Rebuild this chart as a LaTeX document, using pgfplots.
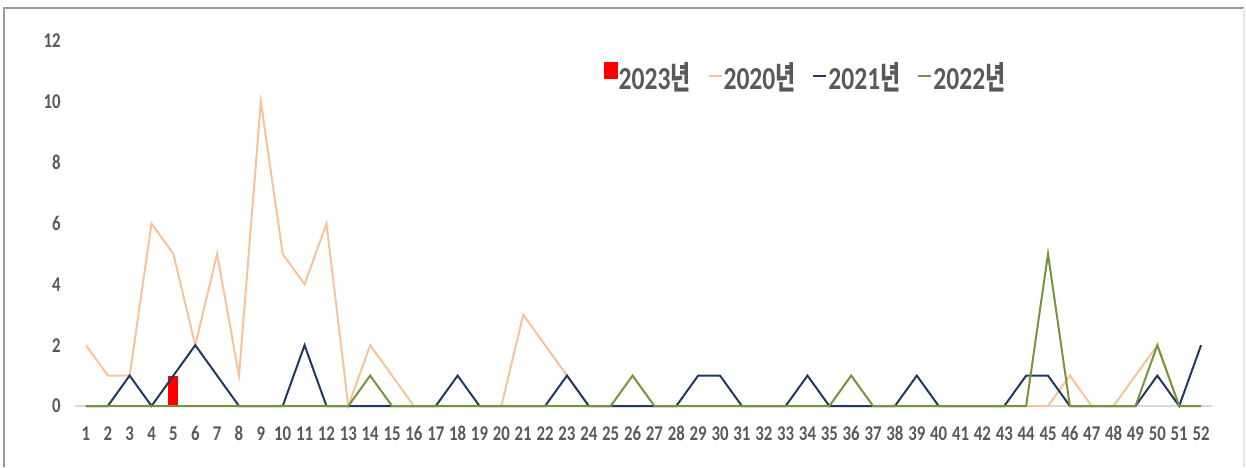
\documentclass[border=0pt]{standalone}
\usepackage{pgfplots}
\pgfplotsset{compat=1.18}
\usepackage{fontspec}
\setmainfont{Carlito}[FakeStretch=0.8]
\newfontfamily\kr{Noto Sans CJK KR}[FakeStretch=0.68]
\definecolor{c20}{HTML}{F8C39A}
\definecolor{c21}{HTML}{1F3864}
\definecolor{c22}{HTML}{77933C}
\definecolor{txt}{HTML}{595959}

\begin{document}
\begin{tikzpicture}
\begin{axis}[
    scale only axis,
    width=568.5pt, height=182.5pt,
    xmin=0.5, xmax=52.5,
    ymin=0, ymax=12,
    xtick={1,...,52},
    ytick={0,2,...,12},
    axis line style={draw=none},
    tick style={draw=none},
    clip=false,
    /pgf/number format/assume math mode=true,
    ticklabel style={font=\fontsize{10.5}{11}\selectfont\bfseries, text=txt},
    xticklabel style={anchor=north, inner sep=0pt, yshift=-10pt},
    yticklabel style={anchor=east, inner sep=0pt, xshift=-7pt},
    legend columns=4,
    legend style={draw=none, fill=none, at={(0.642,0.9)}, anchor=center,
        font=\fontsize{16}{17}\selectfont\bfseries, text=txt,
        nodes={inner sep=0.5pt},
        /tikz/every even column/.append style={column sep=8pt}},
]
\draw[black!15, line width=1pt] (axis cs:0.5,0) -- (axis cs:52.5,0);

% 2023
\addplot[ybar, bar width=5pt, fill=red, draw=none,
    legend image code/.code={\fill[red] (0pt,-0.5pt) rectangle (7pt,8pt);}]
    coordinates {(5,1)};
\addlegendentry{2023{\kr 년}}

% 2020
\addplot[c20, line width=1pt, mark=none,
    legend image code/.code={\draw[c20, line width=1pt] (0pt,1pt) -- (6.5pt,1pt);}]
    coordinates {
    (1,2) (2,1) (3,1) (4,6) (5,5) (6,2) (7,5) (8,1) (9,10) (10,5)
    (11,4) (12,6) (13,0) (14,2) (15,1) (16,0) (17,0) (18,0) (19,0) (20,0)
    (21,3) (22,2) (23,1) (24,0) (25,0) (26,0) (27,0) (28,0) (29,0) (30,0)
    (31,0) (32,0) (33,0) (34,0) (35,0) (36,0) (37,0) (38,0) (39,0) (40,0)
    (41,0) (42,0) (43,0) (44,0) (45,0) (46,1) (47,0) (48,0) (49,1) (50,2)
    (51,0) (52,0)};
\addlegendentry{2020{\kr 년}}

% 2021
\addplot[c21, line width=1pt, mark=none,
    legend image code/.code={\draw[c21, line width=1pt] (0pt,1pt) -- (6.5pt,1pt);}]
    coordinates {
    (1,0) (2,0) (3,1) (4,0) (5,1) (6,2) (7,1) (8,0) (9,0) (10,0)
    (11,2) (12,0) (13,0) (14,0) (15,0) (16,0) (17,0) (18,1) (19,0) (20,0)
    (21,0) (22,0) (23,1) (24,0) (25,0) (26,0) (27,0) (28,0) (29,1) (30,1)
    (31,0) (32,0) (33,0) (34,1) (35,0) (36,0) (37,0) (38,0) (39,1) (40,0)
    (41,0) (42,0) (43,0) (44,1) (45,1) (46,0) (47,0) (48,0) (49,0) (50,1)
    (51,0) (52,2)};
\addlegendentry{2021{\kr 년}}

% 2022
\addplot[c22, line width=1pt, mark=none,
    legend image code/.code={\draw[c22, line width=1pt] (0pt,1pt) -- (6.5pt,1pt);}]
    coordinates {
    (1,0) (2,0) (3,0) (4,0) (5,0) (6,0) (7,0) (8,0) (9,0) (10,0)
    (11,0) (12,0) (13,0) (14,1) (15,0) (16,0) (17,0) (18,0) (19,0) (20,0)
    (21,0) (22,0) (23,0) (24,0) (25,0) (26,1) (27,0) (28,0) (29,0) (30,0)
    (31,0) (32,0) (33,0) (34,0) (35,0) (36,1) (37,0) (38,0) (39,0) (40,0)
    (41,0) (42,0) (43,0) (44,0) (45,5) (46,0) (47,0) (48,0) (49,0) (50,2)
    (51,0) (52,0)};
\addlegendentry{2022{\kr 년}}
\end{axis}
\draw[black!40, line width=0.6pt] (-35.5pt,-30.5pt) -- (-35.5pt,199pt) -- (584.5pt,199pt);
\draw[black!10, line width=0.6pt] (584.5pt,199pt) -- (584.5pt,-30.5pt);
\path (-37.5pt,-30.5pt) rectangle (585.5pt,203pt);
\end{tikzpicture}
\end{document}
